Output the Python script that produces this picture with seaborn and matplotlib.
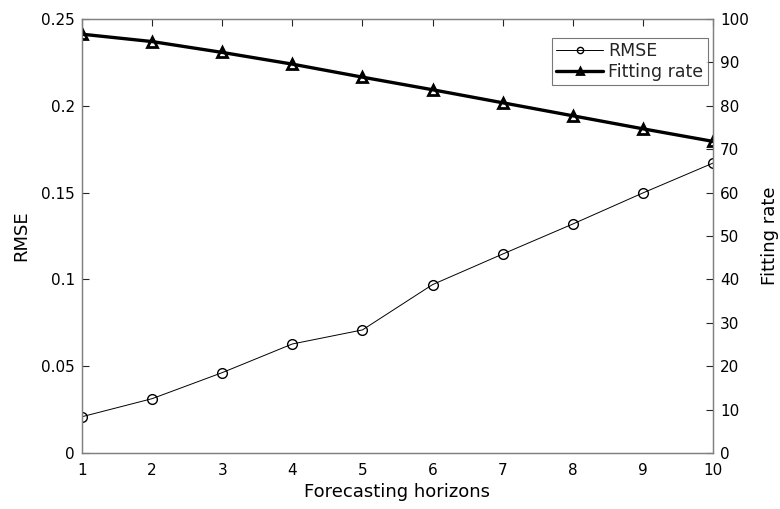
import matplotlib
matplotlib.use("Agg")
import matplotlib.pyplot as plt
import seaborn as sns
import pandas as pd

horizons = [1, 2, 3, 4, 5, 6, 7, 8, 9, 10]
rmse = [0.0209, 0.0313, 0.0463, 0.0628, 0.0709, 0.0970, 0.1146, 0.1319, 0.1498, 0.1670]
fitting_rate = [96.5, 94.8, 92.3, 89.6, 86.6, 83.7, 80.7, 77.7, 74.7, 71.8]

sns.set_theme(style="white")
plt.rcParams["font.family"] = ["DejaVu Sans"]
plt.rcParams["font.size"] = 11

df = pd.DataFrame({"h": horizons, "rmse": rmse, "fit": fitting_rate})

fig = plt.figure(figsize=(7.8, 5.09), dpi=100)
ax = fig.add_axes([82 / 780, 1 - 453 / 509, (713 - 82) / 780, (453 - 19) / 509])
ax2 = ax.twinx()

axis_color = "#262626"

sns.lineplot(data=df, x="h", y="rmse", ax=ax, color="black", linewidth=0.7,
             marker="o", markersize=7, markerfacecolor="none",
             markeredgecolor="black", markeredgewidth=1.0, label="RMSE", legend=False)
sns.lineplot(data=df, x="h", y="fit", ax=ax2, color="black", linewidth=2.4,
             marker="^", markersize=7, markerfacecolor="none",
             markeredgecolor="black", markeredgewidth=2.0, label="Fitting rate", legend=False)

ax.set_xlim(1, 10)
ax.set_ylim(0, 0.25)
ax2.set_ylim(0, 100)
ax.set_xticks(horizons)
ax.set_yticks([0, 0.05, 0.1, 0.15, 0.2, 0.25])
ax.set_yticklabels(["0", "0.05", "0.1", "0.15", "0.2", "0.25"])
ax2.set_yticks(range(0, 101, 10))

ax.set_xlabel("Forecasting horizons", fontsize=13, color="black", labelpad=4)
ax.set_ylabel("RMSE", fontsize=13, color="black", labelpad=8)
ax2.set_ylabel("Fitting rate", fontsize=13, color="black", labelpad=9)

for a in (ax, ax2):
    for sp in a.spines.values():
        sp.set_color("#808080")
        sp.set_linewidth(0.9)
    a.tick_params(direction="in", length=5, width=0.8, color=axis_color,
                  labelsize=11, labelcolor="black")
ax.tick_params(axis="x", top=True, pad=7)
ax.tick_params(axis="y", pad=5)
ax2.tick_params(axis="y", pad=5)

h1, l1 = ax.get_legend_handles_labels()
h2, l2 = ax2.get_legend_handles_labels()
leg = ax2.legend(h1 + h2, l1 + l2, loc="upper left",
                 bbox_to_anchor=((552 - 82) / 631, (453 - 38) / 434),
                 frameon=True, fancybox=False, fontsize=12.5, handlelength=2.7,
                 handletextpad=0.3, borderpad=0.25, labelspacing=0.15, borderaxespad=0)
for ln in leg.get_lines():
    ln.set_markersize(4.5)
leg.get_frame().set_edgecolor("#555555")
leg.get_frame().set_linewidth(0.8)

fig.savefig("out.png", dpi=100)
